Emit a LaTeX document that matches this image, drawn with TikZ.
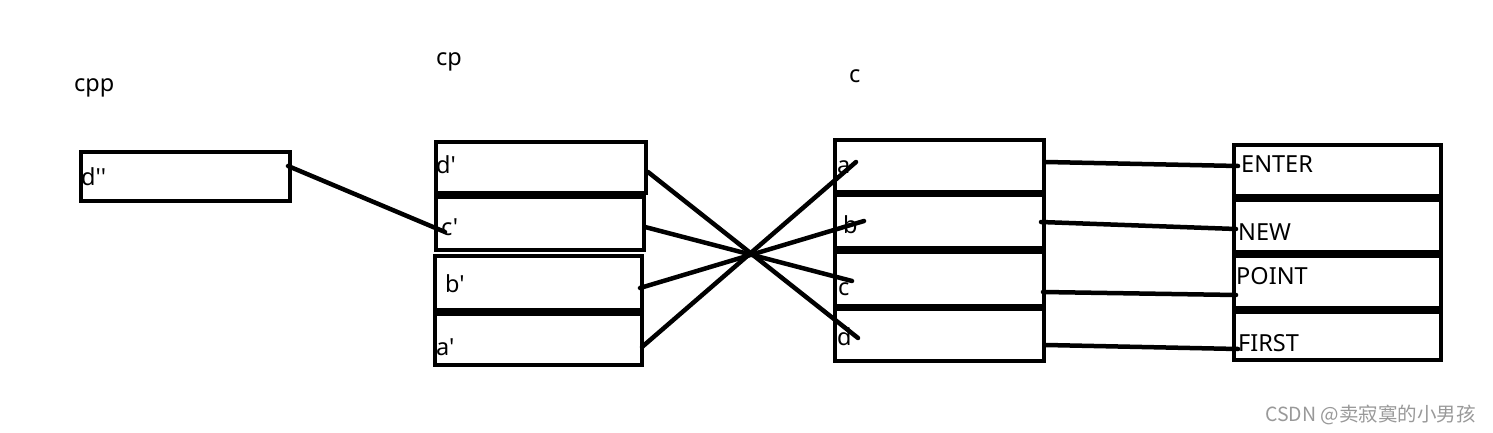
\documentclass[tikz,border=0pt]{standalone}
\usepackage{fontspec}
\newfontfamily\lbl{Noto Sans}
\newfontfamily\cjk{Noto Sans CJK SC}
\begin{document}
\begin{tikzpicture}[x=1pt,y=-1pt,
  box/.style={draw=black,line width=4.8pt,rectangle,inner sep=0pt},
  lab/.style={anchor=base west,inner sep=0pt,font=\lbl\fontsize{23.5}{25}\selectfont},
  link/.style={draw=black,line width=4.5pt,line cap=round}]
\useasboundingbox[fill=white] (0,0) rectangle (1493,433);
% boxes (centre-line corners)
\newcommand\bx[5]{\node[box,minimum width=#4-#2,minimum height=#5-#3] (#1) at ({(#2+#4)/2},{(#3+#5)/2}) {};}
\bx{cppd}{81}{152}{290}{201}
\bx{cpd}{436}{142}{646}{193}
\bx{cpc}{436}{197}{644}{250}
\bx{cpb}{435}{256}{642}{310}
\bx{cpa}{435}{314}{642}{365}
\bx{ca}{835}{140}{1044}{192}
\bx{cb}{835}{195}{1044}{248}
\bx{cc}{835}{252}{1044}{306}
\bx{cdd}{835}{309}{1044}{361}
\bx{ren}{1234}{145}{1441}{196}
\bx{rnw}{1234}{200}{1441}{252}
\bx{rpt}{1234}{256}{1441}{308}
\bx{rfs}{1234}{312}{1441}{360}
% titles
\node[lab] (tcpp) at (74,92) {cpp};
\node[lab] (tcp) at (436,66) {cp};
\node[lab] (tc) at (849,83) {c};
% labels
\node[lab] (ldpp) at (81,185) {d''};
\node[lab] (ldp) at (436,173) {d'};
\node[lab] (lcp) at (441,235) {c'};
\node[lab] (lbp) at (445,292) {b'};
\node[lab] (lap) at (436,355) {a'};
\node[lab] (la) at (837,173) {a};
\node[lab] (lb) at (843,233) {b};
\node[lab] (lc) at (838,295) {c};
\node[lab] (ld) at (837,345) {d};
\node[lab] (lenter) at (1241,172) {ENTER};
\node[lab] (lnew) at (1238,240) {NEW};
\node[lab] (lpoint) at (1236,284) {POINT};
\node[lab] (lfirst) at (1238,351) {FIRST};
% connector end points
\coordinate (p1) at (288,166); \coordinate (q1) at (445,232);
\coordinate (p2) at (648,172); \coordinate (q2) at (858,338);
\coordinate (p3) at (645,227); \coordinate (q3) at (852,281);
\coordinate (p4) at (640,288); \coordinate (q4) at (864,221);
\coordinate (p5) at (642,347); \coordinate (q5) at (856,162);
\coordinate (p6) at (1046,162); \coordinate (q6) at (1238,166);
\coordinate (p7) at (1041,222); \coordinate (q7) at (1236,229);
\coordinate (p8) at (1043,292); \coordinate (q8) at (1236,295);
\coordinate (p9) at (1046,345); \coordinate (q9) at (1238,349);
\foreach \i in {1,...,9} {\draw[link] (p\i) -- (q\i);}
% watermark
\node[anchor=base west,inner sep=0pt,text=black!40,font=\cjk\fontsize{19.5}{21}\selectfont] (wm) at (1265,421) {CSDN @卖寂寞的小男孩};
\end{tikzpicture}
\end{document}
